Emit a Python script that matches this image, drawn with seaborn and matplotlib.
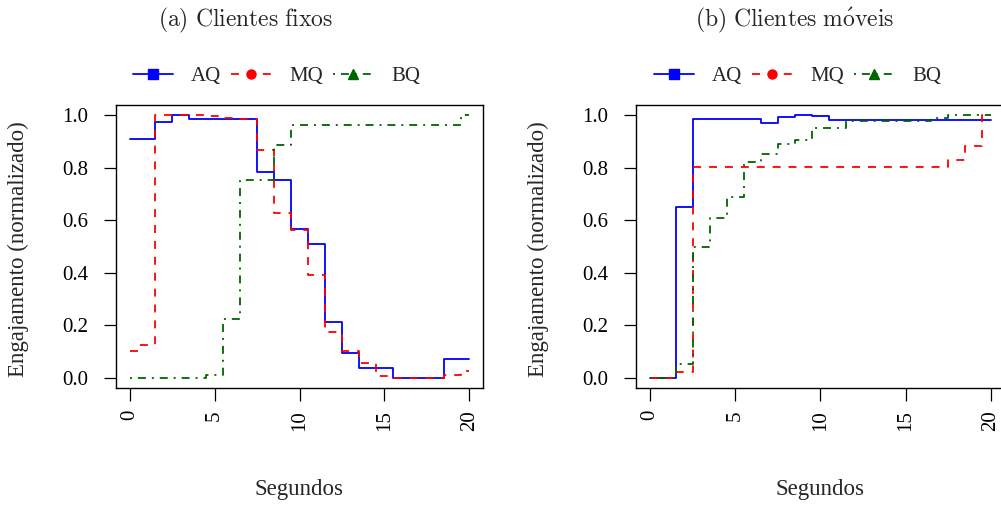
import matplotlib
matplotlib.use("Agg")
import matplotlib.pyplot as plt
from matplotlib.lines import Line2D
import pandas as pd
import seaborn as sns

# Time axis (seconds) and normalised engagement per quality level
segundos = list(range(21))

fixos_aq = [0.911, 0.911, 0.974, 1.0, 0.987, 0.987, 0.987, 0.987, 0.785, 0.752,
            0.568, 0.508, 0.212, 0.093, 0.037, 0.037, 0.0, 0.0, 0.0, 0.072, 0.072]
fixos_mq = [0.103, 0.125, 1.0, 1.0, 1.0, 0.998, 0.99, 0.987, 0.868, 0.627,
            0.563, 0.393, 0.174, 0.102, 0.055, 0.006, 0.0, 0.0, 0.0, 0.01, 0.026]
fixos_bq = [0.0, 0.0, 0.0, 0.0, 0.0, 0.01, 0.223, 0.752, 0.752, 0.888,
            0.962, 0.962, 0.962, 0.962, 0.962, 0.962, 0.962, 0.962, 0.962, 0.962, 1.0]

moveis_aq = [0.0, 0.0, 0.651, 0.987, 0.987, 0.987, 0.987, 0.971, 0.996, 1.0,
             0.998, 0.982, 0.982, 0.982, 0.982, 0.982, 0.982, 0.982, 0.982, 0.982, 0.982]
moveis_mq = [0.0, 0.0, 0.022, 0.803, 0.803, 0.803, 0.803, 0.803, 0.803, 0.803,
             0.803, 0.803, 0.803, 0.803, 0.803, 0.803, 0.803, 0.803, 0.829, 0.882, 1.0]
moveis_bq = [0.0, 0.0, 0.05, 0.5, 0.607, 0.688, 0.821, 0.853, 0.89, 0.908,
             0.954, 0.954, 0.978, 0.978, 0.978, 0.978, 0.978, 0.99, 1.0, 1.0, 1.0]

series_labels = ["AQ", "MQ", "BQ"]
x_ticks = [0, 5, 10, 15, 20]
y_ticks = [0.0, 0.2, 0.4, 0.6, 0.8, 1.0]
y_tick_labels = ["0.0", "0.2", "0.4", "0.6", "0.8", "1.0"]
titulos = [r"$\mathrm{(a)\ Clientes\ fixos}$", r"$\mathrm{(b)\ Clientes\ m\acute{o}veis}$"]

paineis = [
    {"AQ": fixos_aq, "MQ": fixos_mq, "BQ": fixos_bq},
    {"AQ": moveis_aq, "MQ": moveis_mq, "BQ": moveis_bq},
]

estilos = {
    "AQ": dict(color="#0000FF", linestyle="-", marker="s", ms=6.5),
    "MQ": dict(color="#FF0000", linestyle=(0, (4.4, 4.4)), marker="o", ms=6.5),
    "BQ": dict(color="#006400", linestyle=(0, (1.1, 3.3, 4.4, 3.3)), marker="^", ms=7),
}
LW = 1.3

sns.set_theme(style="ticks")
plt.rcParams["font.family"] = ["Liberation Serif", "DejaVu Serif"]
plt.rcParams["mathtext.fontset"] = "cm"

W, H = 1001, 505
fig = plt.figure(figsize=(W / 100, H / 100), dpi=100)
fig.patch.set_facecolor("white")

eixos = [
    fig.add_axes([116 / W, (H - 388) / H, 367 / W, 283 / H]),
    fig.add_axes([636.4 / W, (H - 388) / H, 368 / W, 283 / H]),
]
title_x = [246, 795]
legend_x = [133, 654]

for ax, dados, titulo, tx, lx in zip(eixos, paineis, titulos, title_x, legend_x):
    ax.set_facecolor("white")
    for nome in series_labels:
        df = pd.DataFrame({"Segundos": segundos, "valor": dados[nome]})
        est = estilos[nome]
        sns.lineplot(data=df, x="Segundos", y="valor", ax=ax, color=est["color"],
                     linestyle=est["linestyle"], linewidth=LW,
                     drawstyle="steps-mid", legend=False)

    ax.set_xlim(-0.8, 20.8)
    ax.set_ylim(-0.04, 1.04)
    ax.set_xticks(x_ticks)
    ax.set_xticklabels([str(t) for t in x_ticks], rotation=90, fontsize=15)
    ax.set_yticks(y_ticks)
    ax.set_yticklabels(y_tick_labels, fontsize=15)
    ax.tick_params(axis="x", direction="out", length=9.4, width=0.9, pad=6.5, colors="black")
    ax.tick_params(axis="y", direction="out", length=9.0, width=0.9, pad=11, colors="black")
    for sp in ax.spines.values():
        sp.set_visible(True)
        sp.set_color("black")
        sp.set_linewidth(1.0)

    ax.set_xlabel("Segundos", fontsize=16.5, va="center")
    ax.xaxis.set_label_coords(0.5, -0.36)
    ax.set_ylabel("Engajamento (normalizado)", fontsize=16.5, va="center")
    ax.yaxis.set_label_coords(-0.265, 0.49)

    fig.text(tx / W, 1 - 20 / H, titulo, ha="center", va="center", fontsize=17)

    handles = [Line2D([], [], color=estilos[n]["color"], linestyle=estilos[n]["linestyle"],
                      linewidth=LW, marker=estilos[n]["marker"], markersize=estilos[n]["ms"])
               for n in series_labels]
    fig.legend(handles, series_labels, loc="center left",
               bbox_to_anchor=(lx / W, 1 - 76 / H), bbox_transform=fig.transFigure,
               ncol=3, frameon=False, fontsize=15, handlelength=1.92,
               handletextpad=0.85, columnspacing=0.5, borderpad=0, borderaxespad=0,
               numpoints=1)

fig.savefig("out.png", dpi=100, facecolor="white")
